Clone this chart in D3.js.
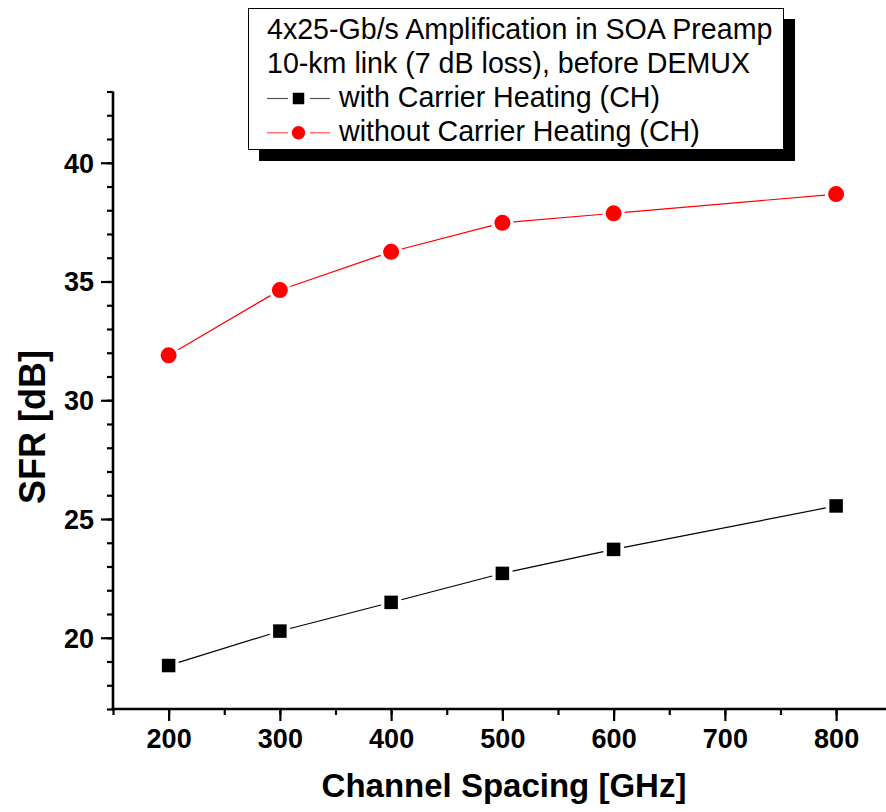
<!DOCTYPE html>
<html>
<head>
<meta charset="utf-8">
<script src="https://cdn.jsdelivr.net/npm/d3@7/dist/d3.min.js"></script>
<style>
  html, body { margin: 0; padding: 0; background: #fff; }
  svg { display: block; }
  text { font-family: "Liberation Sans", Arial, Helvetica, sans-serif; }
</style>
</head>
<body>
<svg id="chart" width="886" height="812"></svg>
<script>
// ---- data ----
const channelSpacing = [200, 300, 400, 500, 600, 800];
const sfrWithCH = [18.83, 20.28, 21.49, 22.71, 23.72, 25.55];
const sfrWithoutCH = [31.89, 34.64, 36.25, 37.47, 37.87, 38.68];
const xTickLabels = [200, 300, 400, 500, 600, 700, 800];
const yTickLabels = [20, 25, 30, 35, 40];
const legendTitle = ["4x25-Gb/s Amplification in SOA Preamp", "10-km link (7 dB loss), before DEMUX"];
const seriesNames = ["with Carrier Heating (CH)", "without Carrier Heating (CH)"];
const xTitle = "Channel Spacing [GHz]";
const yTitle = "SFR [dB]";

// ---- layout ----
const svg = d3.select("#chart");
const x = d3.scaleLinear().domain([150, 850]).range([113, 891.75]);
const y = d3.scaleLinear().domain([17, 43]).range([709, 91.5]);

const plotLeft = x(150), plotBottom = y(17);

// Axes
const xMinor = d3.range(150, 851, 50);
const yMinor = d3.range(17, 43.01, 1);

const gx = svg.append("g").attr("transform", `translate(0,${plotBottom})`);
gx.call(d3.axisBottom(x).tickValues(xMinor).tickSize(6).tickFormat(""));
gx.select(".domain").remove();
gx.selectAll(".tick line").attr("stroke", "#000").attr("stroke-width", 2.2);
const gxMaj = svg.append("g").attr("transform", `translate(0,${plotBottom})`);
gxMaj.call(d3.axisBottom(x).tickValues(xTickLabels).tickSize(12).tickPadding(8).tickFormat(d3.format("d")));
gxMaj.select(".domain").remove();
gxMaj.selectAll(".tick line").attr("stroke", "#000").attr("stroke-width", 2.2);
gxMaj.selectAll(".tick text")
  .attr("fill", "#000")
  .style("font-family", '"Liberation Sans", Arial, sans-serif')
  .style("font-size", "27px").style("font-weight", "bold")
  .attr("dy", "0.71em").attr("y", 20);

const gy = svg.append("g").attr("transform", `translate(${plotLeft},0)`);
gy.call(d3.axisLeft(y).tickValues(yMinor).tickSize(6).tickFormat(""));
gy.select(".domain").remove();
gy.selectAll(".tick line").attr("stroke", "#000").attr("stroke-width", 2.2);
const gyMaj = svg.append("g").attr("transform", `translate(${plotLeft},0)`);
gyMaj.call(d3.axisLeft(y).tickValues(yTickLabels).tickSize(12).tickPadding(8).tickFormat(d3.format("d")));
gyMaj.select(".domain").remove();
gyMaj.selectAll(".tick line").attr("stroke", "#000").attr("stroke-width", 2.2);
gyMaj.selectAll(".tick text")
  .attr("fill", "#000")
  .style("font-family", '"Liberation Sans", Arial, sans-serif')
  .style("font-size", "27px").style("font-weight", "bold")
  .attr("x", -19).attr("dy", "0.35em");

// axis lines
svg.append("line").attr("x1", plotLeft).attr("x2", plotLeft)
  .attr("y1", y(43)).attr("y2", plotBottom + 1.2)
  .attr("stroke", "#000").attr("stroke-width", 2.6);
svg.append("line").attr("x1", plotLeft - 1.3).attr("x2", 886)
  .attr("y1", plotBottom).attr("y2", plotBottom)
  .attr("stroke", "#000").attr("stroke-width", 2.6);

// axis titles
svg.append("text").attr("x", 504).attr("y", 797)
  .attr("text-anchor", "middle").attr("font-size", 33).attr("font-weight", "bold")
  .attr("fill", "#000").text(xTitle);
svg.append("text").attr("transform", "translate(45,427) rotate(-90)")
  .attr("text-anchor", "middle").attr("font-size", 36).attr("font-weight", "bold")
  .attr("fill", "#000").text(yTitle);

// series with gaps between line segments and markers
function drawSeries(vals, color, gap) {
  const pts = channelSpacing.map((c, i) => [x(c), y(vals[i])]);
  const segs = d3.pairs(pts);
  svg.append("g").selectAll("line").data(segs).join("line")
    .each(function([a, b]) {
      const dx = b[0] - a[0], dy = b[1] - a[1];
      const L = Math.hypot(dx, dy);
      const ux = dx / L, uy = dy / L;
      d3.select(this)
        .attr("x1", a[0] + ux * gap).attr("y1", a[1] + uy * gap)
        .attr("x2", b[0] - ux * gap).attr("y2", b[1] - uy * gap);
    })
    .attr("stroke", color).attr("stroke-width", 1.2);
  return pts;
}
const ptsBlack = drawSeries(sfrWithCH, "#000", 10.5);
const ptsRed = drawSeries(sfrWithoutCH, "#ff0000", 11);

const sq = 13.5;
svg.append("g").selectAll("rect").data(ptsBlack).join("rect")
  .attr("x", d => d[0] - sq / 2).attr("y", d => d[1] - sq / 2)
  .attr("width", sq).attr("height", sq).attr("fill", "#000");
svg.append("g").selectAll("circle").data(ptsRed).join("circle")
  .attr("cx", d => d[0]).attr("cy", d => d[1]).attr("r", 8)
  .attr("fill", "#ff0000");

// legend
const lg = svg.append("g");
const legendFont = 28.6;
lg.append("rect").attr("x", 259).attr("y", 19).attr("width", 536).attr("height", 142).attr("fill", "#000");
lg.append("rect").attr("x", 248.5).attr("y", 8.5).attr("width", 535).attr("height", 141)
  .attr("fill", "#fff").attr("stroke", "#000").attr("stroke-width", 1);
lg.selectAll("text.title").data(legendTitle).join("text")
  .attr("class", "title")
  .attr("x", 267).attr("y", (d, i) => 39 + i * 34)
  .attr("font-size", legendFont).attr("fill", "#000").text(d => d);
const legendRows = [
  { name: seriesNames[0], color: "#000", lineColor: "#555", shape: "square" },
  { name: seriesNames[1], color: "#ff0000", lineColor: "#ff5555", shape: "circle" }
];
legendRows.forEach((r, i) => {
  const cy = 98.5 + i * 34.3;
  lg.append("line").attr("x1", 267).attr("x2", 288).attr("y1", cy).attr("y2", cy)
    .attr("stroke", r.lineColor).attr("stroke-width", 1.2);
  lg.append("line").attr("x1", 310).attr("x2", 330).attr("y1", cy).attr("y2", cy)
    .attr("stroke", r.lineColor).attr("stroke-width", 1.2);
  if (r.shape === "square") {
    lg.append("rect").attr("x", 298.5 - 5.75).attr("y", cy - 5.75).attr("width", 11.5).attr("height", 11.5).attr("fill", r.color);
  } else {
    lg.append("circle").attr("cx", 298.5).attr("cy", cy).attr("r", 6.7).attr("fill", r.color);
  }
  lg.append("text").attr("x", 339).attr("y", 107 + i * 34).attr("font-size", legendFont).attr("fill", "#000").text(r.name);
});
</script>
</body>
</html>
